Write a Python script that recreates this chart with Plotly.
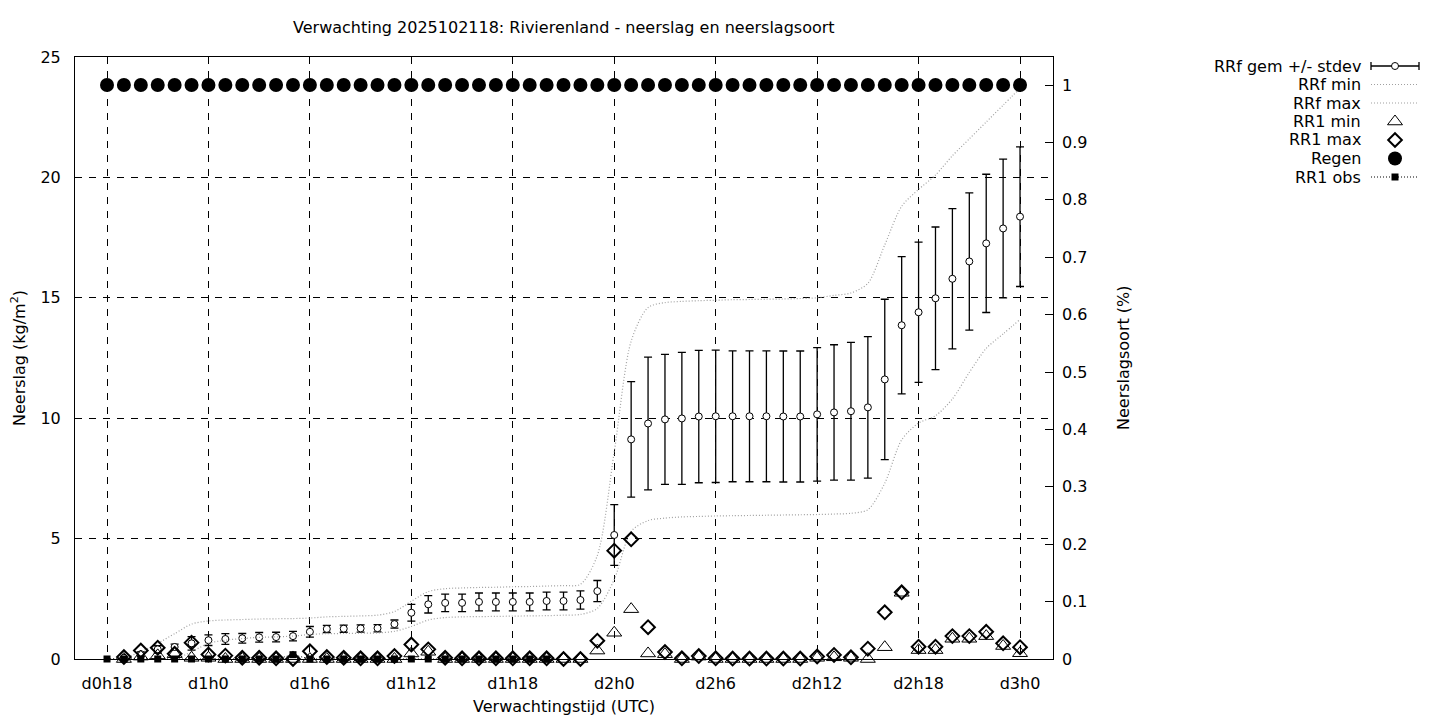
import plotly.graph_objects as go

# hours after d0h18 (0 .. 54)
hours = list(range(55))
tick_hours = [0, 6, 12, 18, 24, 30, 36, 42, 48, 54]
tick_labels = ["d0h18", "d1h0", "d1h6", "d1h12", "d1h18", "d2h0", "d2h6", "d2h12", "d2h18", "d3h0"]

rrf_mean = [None, 0.05, 0.2, 0.4, 0.5, 0.65, 0.78, 0.83, 0.86, 0.9,
            0.91, 0.95, 1.13, 1.25, 1.26, 1.27, 1.28, 1.45, 1.92, 2.27,
            2.33, 2.33, 2.37, 2.37, 2.37, 2.37, 2.41, 2.41, 2.45, 2.82,
            5.15, 9.12, 9.78, 9.95, 9.99, 10.07, 10.08, 10.08, 10.08, 10.08,
            10.07, 10.07, 10.16, 10.24, 10.29, 10.45, 11.61, 13.86, 14.40, 14.98,
            15.79, 16.51, 17.26, 17.88, 18.37]
rrf_stdev = [None, 0.05, 0.1, 0.15, 0.12, 0.28, 0.22, 0.22, 0.2, 0.2,
             0.2, 0.2, 0.22, 0.15, 0.15, 0.15, 0.15, 0.17, 0.35, 0.36,
             0.36, 0.36, 0.37, 0.37, 0.37, 0.37, 0.37, 0.37, 0.38, 0.44,
             1.26, 2.4, 2.76, 2.7, 2.74, 2.75, 2.75, 2.72, 2.72, 2.72,
             2.72, 2.72, 2.77, 2.81, 2.86, 2.94, 3.33, 2.85, 2.91, 2.96,
             2.91, 2.85, 2.87, 2.88, 2.9]
rrf_min = [0, 0, 0, 0, 0, 0.3, 0.65, 0.78, 0.85, 0.9,
           0.92, 0.95, 1.02, 1.05, 1.06, 1.07, 1.08, 1.15, 1.35, 1.62,
           1.72, 1.75, 1.76, 1.77, 1.78, 1.79, 1.8, 1.82, 1.85, 2.1,
           3.3, 5.3, 5.75, 5.85, 5.9, 5.92, 5.94, 5.95, 5.96, 5.97,
           5.98, 5.99, 6.0, 6.02, 6.05, 6.2, 7.3, 9.1, 9.8, 10.1,
           10.8, 11.9, 12.9, 13.5, 14.1]
rrf_max = [0, 0.05, 0.3, 0.65, 1.05, 1.45, 1.58, 1.62, 1.64, 1.66,
           1.67, 1.68, 1.7, 1.75, 1.77, 1.79, 1.82, 1.97, 2.4, 2.8,
           2.92, 2.95, 2.97, 2.98, 3.0, 3.01, 3.03, 3.05, 3.1, 4.3,
           8.6, 13.2, 14.6, 14.8, 14.85, 14.88, 14.9, 14.92, 14.93, 14.94,
           14.95, 14.97, 15.0, 15.1, 15.2, 15.6, 17.2, 18.8, 19.5, 20.1,
           20.9, 21.6, 22.3, 23.0, 23.7]
rr1_min = [None, 0.0, 0.1, 0.15, 0.2, 0.05, 0.05, 0.0, 0.0, 0.0,
           0.0, 0.0, 0.0, 0.0, 0.0, 0.0, 0.0, 0.0, 0.23, 0.3,
           0.0, 0.0, 0.0, 0.0, 0.0, 0.0, 0.0, 0.0, 0.0, 0.35,
           1.09, 2.07, 0.23, 0.2, 0.0, 0.1, 0.0, 0.0, 0.0, 0.0,
           0.0, 0.0, 0.05, 0.07, 0.05, 0.0, 0.49, 2.75, 0.37, 0.37,
           0.84, 0.84, 0.95, 0.54, 0.24]
rr1_max = [None, 0.08, 0.35, 0.47, 0.22, 0.68, 0.19, 0.14, 0.05, 0.05,
           0.03, 0.0, 0.32, 0.08, 0.05, 0.03, 0.03, 0.12, 0.6, 0.4,
           0.05, 0.03, 0.03, 0.03, 0.03, 0.03, 0.03, 0.0, 0.0, 0.76,
           4.5, 4.97, 1.32, 0.29, 0.03, 0.12, 0.03, 0.02, 0.02, 0.02,
           0.02, 0.02, 0.1, 0.17, 0.07, 0.43, 1.94, 2.77, 0.51, 0.51,
           0.95, 0.95, 1.13, 0.65, 0.49]
regen = [1] * 55
rr1_obs = [0, 0, 0, 0, 0, 0, 0, 0, 0, 0,
           0, 0.18, 0, 0, 0, 0, 0, 0, 0, 0,
           0, 0, 0, 0, 0, 0, 0] + [None] * 28

legend_labels = ["RRf gem +/- stdev", "RRf min", "RRf max", "RR1 min", "RR1 max", "Regen", "RR1 obs"]

W, H = 1440, 720
FONT = "DejaVu Sans"
FS = 16
GREY = "#a0a0a0"

MEAN_MARKER = {"symbol": "circle", "size": 7, "color": "white", "line": {"color": "black", "width": 1}}
TRI_MARKER = {"symbol": "triangle-up-open", "size": 13, "color": "black", "line": {"color": "black", "width": 1}}
DIA_MARKER = {"symbol": "diamond-open", "size": 10.5, "color": "black", "line": {"color": "black", "width": 2}}
REGEN_MARKER = {"symbol": "circle", "size": 14, "color": "black"}
DOTTED_GREY = {"color": GREY, "width": 1.2, "dash": "1px,2px"}


def px_x(p):
    return p / W


def px_y(p):
    return (H - p) / H


fig = go.Figure()

fig.add_trace(go.Scatter(
    x=hours, y=rrf_mean, mode="markers", name=legend_labels[0], cliponaxis=False,
    marker=MEAN_MARKER,
    error_y={"type": "data", "array": rrf_stdev, "visible": True, "color": "black", "thickness": 1.3, "width": 4},
))
fig.add_trace(go.Scatter(
    x=hours, y=rrf_min, mode="lines", name=legend_labels[1],
    line={**DOTTED_GREY, "shape": "spline", "smoothing": 0.8},
))
fig.add_trace(go.Scatter(
    x=hours, y=rrf_max, mode="lines", name=legend_labels[2],
    line={**DOTTED_GREY, "shape": "spline", "smoothing": 0.8},
))
fig.add_trace(go.Scatter(
    x=hours, y=rr1_min, mode="markers", name=legend_labels[3], cliponaxis=False, marker=TRI_MARKER,
))
fig.add_trace(go.Scatter(
    x=hours, y=rr1_max, mode="markers", name=legend_labels[4], cliponaxis=False, marker=DIA_MARKER,
))
fig.add_trace(go.Scatter(
    x=hours, y=regen, mode="markers", name=legend_labels[5], yaxis="y2", cliponaxis=False, marker=REGEN_MARKER,
))
fig.add_trace(go.Scatter(
    x=hours, y=rr1_obs, mode="lines+markers", name=legend_labels[6], cliponaxis=False,
    line={"color": "black", "width": 1, "dash": "1px,2px"},
    marker={"symbol": "square", "size": 7, "color": "black"},
))

# hand-drawn key (gnuplot style: label left, sample right)
key_y = [-k for k in range(len(legend_labels))]
fig.add_trace(go.Scatter(
    x=[0], y=[key_y[0]], xaxis="x3", yaxis="y3", mode="markers", marker=MEAN_MARKER,
    error_x={"type": "data", "array": [1], "visible": True, "color": "black", "thickness": 1.3, "width": 4},
))
for k in (1, 2):
    fig.add_trace(go.Scatter(
        x=[-1, 1], y=[key_y[k]] * 2, xaxis="x3", yaxis="y3", mode="lines", line=DOTTED_GREY,
    ))
fig.add_trace(go.Scatter(x=[0], y=[key_y[3]], xaxis="x3", yaxis="y3", mode="markers", marker=TRI_MARKER))
fig.add_trace(go.Scatter(x=[0], y=[key_y[4]], xaxis="x3", yaxis="y3", mode="markers", marker=DIA_MARKER))
fig.add_trace(go.Scatter(x=[0], y=[key_y[5]], xaxis="x3", yaxis="y3", mode="markers", marker=REGEN_MARKER))
fig.add_trace(go.Scatter(
    x=[-1, 1], y=[key_y[6]] * 2, xaxis="x3", yaxis="y3", mode="lines",
    line={"color": "black", "width": 1, "dash": "1px,2px"},
))
fig.add_trace(go.Scatter(
    x=[0], y=[key_y[6]], xaxis="x3", yaxis="y3", mode="markers",
    marker={"symbol": "square", "size": 7, "color": "black"},
))

annotations = []
for k, label in enumerate(legend_labels):
    annotations.append({
        "text": label, "x": px_x(1363), "y": px_y(66 + 18.5 * k), "xref": "paper", "yref": "paper",
        "xanchor": "right", "yanchor": "middle", "showarrow": False, "font": {"size": FS},
    })
annotations += [
    {"text": "Verwachting 2025102118: Rivierenland - neerslag en neerslagsoort",
     "x": px_x(564), "y": px_y(28), "xref": "paper", "yref": "paper", "xanchor": "center", "yanchor": "middle",
     "showarrow": False, "font": {"size": FS}},
    {"text": "Verwachtingstijd (UTC)", "x": px_x(564), "y": px_y(706), "xref": "paper", "yref": "paper",
     "xanchor": "center", "yanchor": "middle", "showarrow": False, "font": {"size": FS}},
    {"text": "Neerslag (kg/m<sup>2</sup>)", "x": px_x(18), "y": px_y(358), "xref": "paper", "yref": "paper",
     "xanchor": "center", "yanchor": "middle", "textangle": -90, "showarrow": False, "font": {"size": FS}},
    {"text": "Neerslagsoort (%)", "x": px_x(1123), "y": px_y(358), "xref": "paper", "yref": "paper",
     "xanchor": "center", "yanchor": "middle", "textangle": -90, "showarrow": False, "font": {"size": FS}},
]

grid = {"showgrid": True, "gridcolor": "black", "gridwidth": 1, "griddash": "7px,7px"}

fig.update_layout(
    width=W, height=H,
    margin={"l": 0, "r": 0, "t": 0, "b": 0},
    paper_bgcolor="white", plot_bgcolor="white",
    font={"family": FONT, "size": FS, "color": "black"},
    showlegend=False,
    annotations=annotations,
    xaxis={
        "domain": [px_x(75), px_x(1053)], "range": [-1.893, 55.95],
        "tickmode": "array", "tickvals": tick_hours, "ticktext": tick_labels,
        "ticks": "", "ticklabelstandoff": 10, "zeroline": False,
        "showline": True, "mirror": True, "linecolor": "black", "linewidth": 1,
        "automargin": False, **grid,
    },
    yaxis={
        "domain": [px_y(659), px_y(57)], "range": [0, 25],
        "tickmode": "array", "tickvals": [0, 5, 10, 15, 20, 25],
        "ticks": "", "ticklabelstandoff": 10, "zeroline": False,
        "showline": True, "mirror": True, "linecolor": "black", "linewidth": 1,
        "automargin": False, **grid,
    },
    yaxis2={
        "overlaying": "y", "side": "right", "range": [0, 1.0488],
        "tickmode": "linear", "tick0": 0, "dtick": 0.1,
        "ticks": "inside", "ticklen": 8, "tickcolor": "black", "ticklabelstandoff": 8,
        "showgrid": False, "zeroline": False, "showline": False, "automargin": False,
    },
    xaxis3={
        "domain": [px_x(1365), px_x(1425)], "range": [-1.25, 1.25],
        "visible": False, "fixedrange": True,
    },
    yaxis3={
        "domain": [px_y(190), px_y(53)], "range": [-6.703, 0.7027],
        "visible": False, "fixedrange": True,
    },
)

fig.write_html(
    "out.html",
    config={"displayModeBar": False},
    post_script="document.body.style.margin = '0px';",
)
